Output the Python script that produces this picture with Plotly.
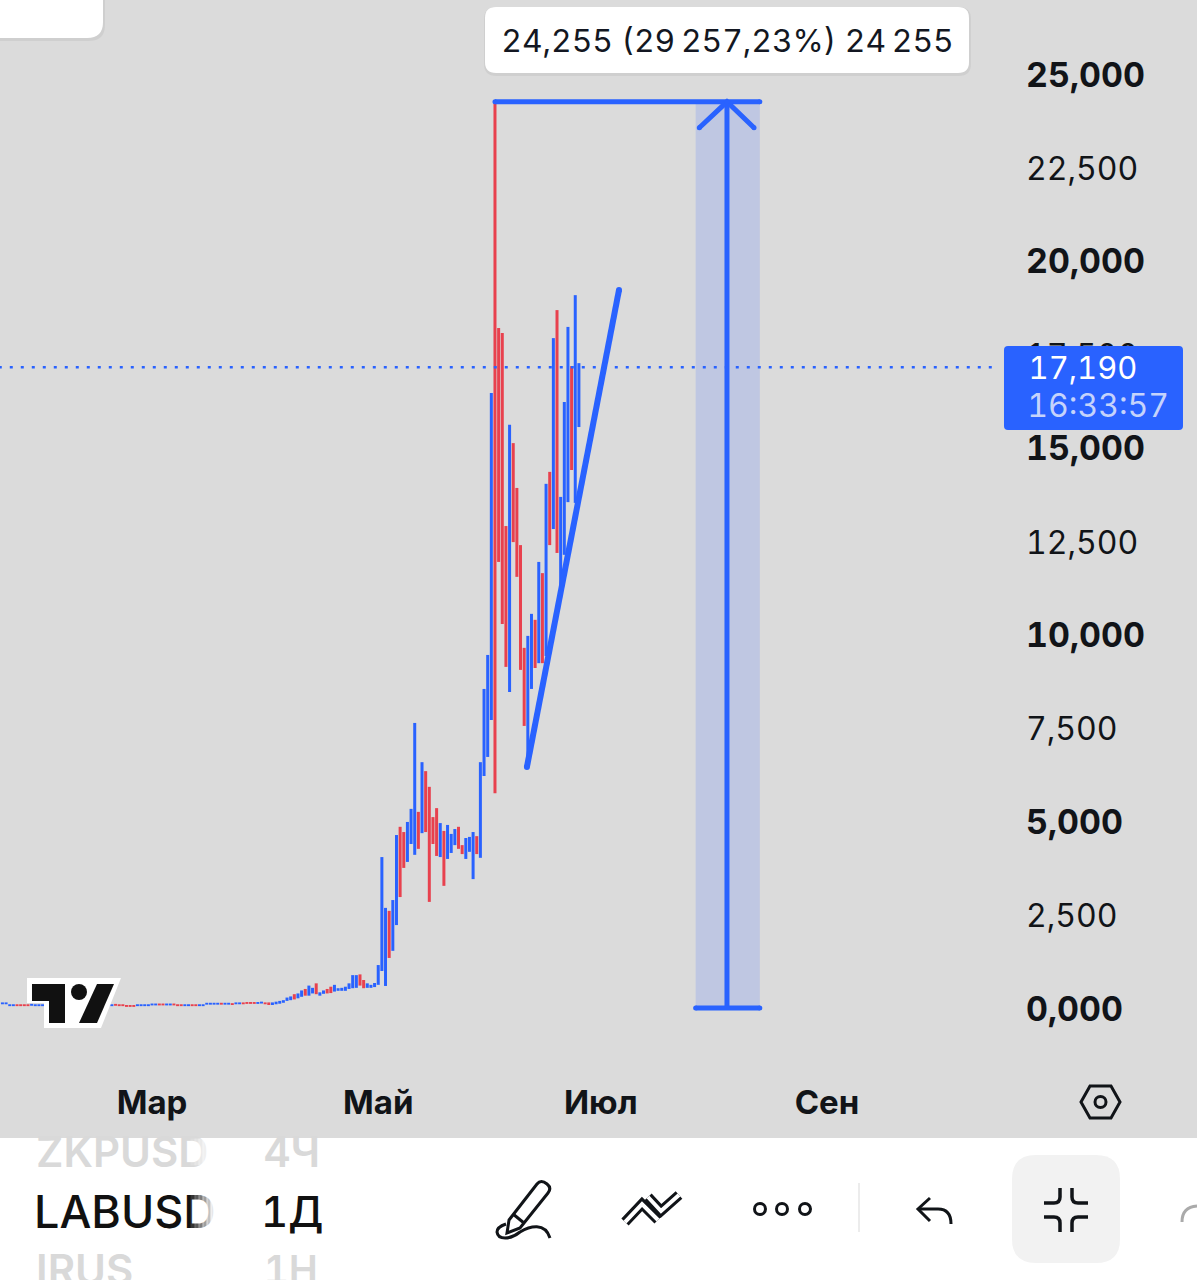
import pandas as pd
import plotly.graph_objects as go

W = 1197
H = 1280

# daily bars, 18 Jan - 25 Jun
start_day = "2025-01-18"
highs = [0.19, 0.19, 0.14, 0.14, 0.14, 0.14, 0.14, 0.14, 0.15, 0.14, 0.14, 0.14,
         0.15, 0.15, 0.15, 0.15, 0.15, 0.15, 0.15, 0.15, 0.15, 0.15, 0.15, 0.15, 0.15,
         0.15, 0.15, 0.15, 0.15, 0.14,
         0.14, 0.15, 0.14, 0.14, 0.12, 0.12, 0.12, 0.14, 0.14, 0.14, 0.14,
         0.16, 0.16, 0.16, 0.16, 0.16, 0.16, 0.16, 0.14, 0.14, 0.14, 0.14, 0.14, 0.14, 0.14, 0.14,
         0.18, 0.18, 0.18, 0.18, 0.18, 0.18, 0.18, 0.17, 0.19, 0.19, 0.19,
         0.20, 0.20, 0.20, 0.20, 0.21, 0.19,
         0.19, 0.19, 0.21, 0.23, 0.25, 0.32, 0.35, 0.41, 0.43, 0.51, 0.55, 0.64, 0.58, 0.70,
         0.46, 0.51, 0.55, 0.61, 0.66, 0.57, 0.58, 0.61, 0.70, 0.92, 0.92, 0.94, 0.79, 0.70,
         0.66, 0.71, 1.19, 4.08, 2.72, 2.64, 2.93, 4.67, 4.89, 4.75, 5.02, 5.37, 7.67, 5.29,
         6.62, 6.38, 5.96, 5.15, 5.39, 4.99, 4.78, 4.94, 4.70, 4.83, 4.89, 4.40, 4.59, 4.62,
         4.75, 4.64, 6.62, 8.58, 9.49, 16.50, 24.295, 18.24, 18.11, 12.94, 15.65, 15.16,
         13.96, 12.43, 9.68, 10.00, 10.59, 10.43, 11.98, 11.68, 14.07, 14.39, 17.97, 18.72,
         13.72, 16.26, 18.27, 17.22, 19.12, 17.30]
lows = [0.14, 0.14, 0.09, 0.09, 0.09, 0.09, 0.09, 0.09, 0.10, 0.09, 0.09, 0.09,
        0.10, 0.10, 0.10, 0.10, 0.10, 0.10, 0.10, 0.10, 0.10, 0.10, 0.10, 0.10, 0.10,
        0.10, 0.10, 0.10, 0.10, 0.09,
        0.09, 0.10, 0.09, 0.09, 0.07, 0.07, 0.07, 0.09, 0.09, 0.09, 0.09,
        0.11, 0.11, 0.11, 0.11, 0.11, 0.11, 0.11, 0.09, 0.09, 0.09, 0.09, 0.09, 0.09, 0.09, 0.09,
        0.13, 0.13, 0.13, 0.13, 0.13, 0.13, 0.13, 0.12, 0.14, 0.14, 0.14,
        0.15, 0.15, 0.15, 0.15, 0.16, 0.14,
        0.12, 0.12, 0.14, 0.155, 0.18, 0.23, 0.25, 0.27, 0.30, 0.34, 0.37, 0.37, 0.43, 0.41,
        0.37, 0.42, 0.43, 0.44, 0.48, 0.50, 0.50, 0.50, 0.55, 0.57, 0.58, 0.64, 0.57, 0.58,
        0.58, 0.60, 0.66, 1.03, 0.63, 1.38, 1.57, 2.26, 3.01, 3.79, 3.95, 4.43, 4.14, 4.30,
        4.72, 4.75, 2.88, 4.43, 4.11, 4.08, 3.31, 4.03, 4.19, 4.40, 4.30, 4.16, 4.03, 4.22,
        3.49, 4.16, 4.06, 6.25, 6.76, 7.75, 5.79, 11.98, 10.32, 9.17, 8.50, 12.51,
        11.58, 9.09, 7.59, 6.49, 8.58, 9.14, 9.27, 9.27, 9.46, 12.43, 12.86, 12.22,
        11.23, 12.17, 13.58, 14.44, 13.56, 15.59]
# 1 = blue bar, 0 = red bar
blue = [1, 1, 1, 1, 0, 0, 0, 0, 1, 1, 1, 1,
        0, 0, 1, 1, 0, 0, 1, 1, 1, 0, 0, 1, 1,
        1, 0, 1, 0, 1,
        1, 0, 0, 0, 0, 0, 0, 1, 1, 1, 1,
        1, 1, 0, 0, 1, 1, 0, 0, 0, 1, 1, 0, 0, 1, 1,
        1, 1, 1, 1, 0, 1, 1, 0, 1, 1, 0,
        0, 0, 0, 1, 1, 0,
        0, 1, 1, 1, 1, 1, 1, 0, 1, 1, 0, 1, 1, 0,
        1, 1, 0, 0, 1, 1, 1, 1, 1, 1, 1, 0, 0, 1,
        1, 1, 1, 1, 1, 0, 1, 1, 0, 0, 1, 1, 1, 0,
        1, 0, 0, 0, 0, 1, 0, 1, 1, 1, 0, 0, 1, 1,
        1, 0, 1, 1, 1, 1, 0, 0, 0, 0, 1, 0,
        0, 0, 0, 1, 1, 0, 1, 0, 1, 0, 1, 0,
        1, 1, 1, 0, 1, 1]

last_price = 17.19
price_ticks = [0, 2.5, 5, 7.5, 10, 12.5, 15, 17.5, 20, 22.5, 25]
price_labels = ["0,000", "2,500", "5,000", "7,500", "10,000", "12,500",
                "15,000", "17,500", "20,000", "22,500", "25,000"]
price_bold = [1, 0, 1, 0, 1, 0, 1, 0, 1, 0, 1]
month_ticks = ["2025-02-28", "2025-05-01", "2025-07-01", "2025-09-01"]
month_labels = ["<b>Мар</b>", "<b>Май</b>", "<b>Июл</b>", "<b>Сен</b>"]

trend_x = ["2025-06-10 18:00", "2025-07-06 00:00"]
trend_y = [6.49, 19.26]
measure_left = "2025-07-27"
measure_right = "2025-08-13 14:00"
measure_mid = "2025-08-04 14:00"
measure_low = 0.04
measure_high = 24.295
top_line_x = ["2025-06-02 00:00", measure_right]
head_x = ["2025-07-28", measure_mid, "2025-08-12"]
head_y = [23.6, measure_high, 23.6]
dot_x = ["2025-01-17", "2025-10-17"]

BG = "#dbdbdb"
BLUE = "#2962ff"
RED = "#e8414e"
INK = "#111418"
FONT = "Inter"

PLOT_RIGHT = 1000
PLOT_BOTTOM = 1075

dates = pd.date_range(start_day, periods=len(highs), freq="D")
opens = [l if b else h for h, l, b in zip(highs, lows, blue)]
closes = [h if b else l for h, l, b in zip(highs, lows, blue)]
price_text = [f'<span style="font-size:34px"><b>{t}</b></span>' if b else t
              for t, b in zip(price_labels, price_bold)]


def path(*cmds):
    # pixel coordinates of the page -> paper coordinates
    out = []
    for c in cmds:
        nums = c[1:]
        pts = []
        for i in range(0, len(nums), 2):
            pts.append(f"{nums[i] / W:.5f} {1 - nums[i + 1] / H:.5f}")
        out.append(c[0] + " ".join(pts))
    return " ".join(out)


def round_rect(x0, y0, x1, y1, r):
    return path(("M", x0 + r, y0), ("L", x1 - r, y0), ("Q", x1, y0, x1, y0 + r),
                ("L", x1, y1 - r), ("Q", x1, y1, x1 - r, y1), ("L", x0 + r, y1),
                ("Q", x0, y1, x0, y1 - r), ("L", x0, y0 + r), ("Q", x0, y0, x0 + r, y0), ("Z",))


def filled(p, color):
    return dict(type="path", xref="paper", yref="paper", path=p, fillcolor=color,
                line=dict(width=0), layer="above")


def stroke(p, color=INK, width=3):
    return dict(type="path", xref="paper", yref="paper", path=p,
                line=dict(color=color, width=width), layer="above")


def circle(cx, cy, r, color=INK, width=3):
    return dict(type="circle", xref="paper", yref="paper", x0=(cx - r) / W, x1=(cx + r) / W,
                y0=1 - (cy + r) / H, y1=1 - (cy - r) / H,
                line=dict(color=color, width=width), layer="above")


def label(x, y, text, size, color=INK, anchor="left", weight=400):
    return dict(xref="paper", yref="paper", x=x / W, y=1 - y / H, text=text, showarrow=False,
                xanchor=anchor, yanchor="middle",
                font=dict(family=FONT, size=size, color=color, weight=weight))


def fade(x, y, w, h, alpha):
    return dict(xref="paper", yref="paper", x=x / W, y=1 - y / H, text="&nbsp;", showarrow=False,
                xanchor="left", yanchor="middle", width=w, height=h, borderpad=0,
                bgcolor=f"rgba(255,255,255,{alpha})", font=dict(size=8))


fig = go.Figure()

fig.add_trace(go.Ohlc(x=dates, open=opens, high=highs, low=lows, close=closes, tickwidth=0,
                      increasing=dict(line=dict(color=BLUE, width=3)),
                      decreasing=dict(line=dict(color=RED, width=3)),
                      showlegend=False, hoverinfo="skip"))

# last price line
fig.add_trace(go.Scatter(x=dot_x, y=[last_price, last_price], mode="lines", showlegend=False,
                         line=dict(color=BLUE, width=2.5, dash="3px,8px"), hoverinfo="skip"))

# trend line
fig.add_trace(go.Scatter(x=trend_x, y=trend_y, mode="lines+markers", showlegend=False,
                         line=dict(color=BLUE, width=6), marker=dict(color=BLUE, size=6),
                         hoverinfo="skip"))

# measure tool
fig.add_trace(go.Scatter(x=top_line_x, y=[measure_high, measure_high], mode="lines+markers",
                         line=dict(color=BLUE, width=5), marker=dict(color=BLUE, size=5),
                         showlegend=False, hoverinfo="skip"))
fig.add_trace(go.Scatter(x=[measure_left, measure_right], y=[measure_low, measure_low],
                         mode="lines+markers", line=dict(color=BLUE, width=5),
                         marker=dict(color=BLUE, size=5), showlegend=False, hoverinfo="skip"))
fig.add_trace(go.Scatter(x=[measure_mid, measure_mid], y=[measure_low, measure_high], mode="lines",
                         line=dict(color=BLUE, width=5), showlegend=False, hoverinfo="skip"))
fig.add_trace(go.Scatter(x=head_x, y=head_y, mode="lines+markers", line=dict(color=BLUE, width=5),
                         marker=dict(color=BLUE, size=5), showlegend=False, hoverinfo="skip"))

shapes = [
    dict(type="rect", xref="x", yref="y", x0=measure_left, x1=measure_right, y0=measure_low,
         y1=measure_high, fillcolor="#bfc7e2", line=dict(width=0), layer="below"),
    # tv logo
    filled(path(("M", 27, 978), ("L", 121, 978), ("L", 101, 1028), ("L", 44, 1028), ("L", 44, 1003),
                ("L", 27, 1003), ("Z",)), "#ffffff"),
    filled(path(("M", 32, 984), ("L", 65, 984), ("L", 65, 1023), ("L", 49, 1023), ("L", 49, 1001),
                ("L", 32, 1001), ("Z",)), "#111111"),
    filled(path(("M", 97, 984), ("L", 114, 984), ("L", 97, 1023), ("L", 79, 1023), ("Z",)), "#111111"),
    dict(type="circle", xref="paper", yref="paper", x0=71 / W, x1=87 / W, y0=1 - 1000 / H, y1=1 - 984 / H,
         fillcolor="#111111", line=dict(width=0), layer="above"),
    # top left card, tooltip
    filled(round_rect(-20, -20, 105, 41, 16), "rgba(0,0,0,0.05)"),
    filled(round_rect(-20, -20, 103, 38, 16), "#ffffff"),
    filled(round_rect(484, 7, 971, 76, 12), "rgba(0,0,0,0.05)"),
    filled(round_rect(485, 7, 969, 73, 11), "#ffffff"),
    # price box
    filled(round_rect(1004, 346, 1183, 430, 4), BLUE),
    # bottom bar
    filled(path(("M", 0, 1138), ("L", W, 1138), ("L", W, H), ("L", 0, H), ("Z",)), "#ffffff"),
    filled(round_rect(1012, 1155, 1120, 1263, 24), "#f2f2f2"),
    # settings icon
    stroke(path(("M", 1081, 1102), ("L", 1090, 1086), ("L", 1111, 1086), ("L", 1120, 1102),
                ("L", 1111, 1118), ("L", 1090, 1118), ("Z",))),
    circle(1100.5, 1102, 5.5),
    # pen icon
    stroke(path(("M", 509, 1220), ("L", 537, 1184), ("Q", 541, 1179, 547, 1184), ("Q", 552, 1188, 548, 1193),
                ("L", 520, 1228), ("L", 507, 1233), ("Z",))),
    stroke(path(("M", 513, 1214), ("L", 524, 1223))),
    stroke(path(("M", 550, 1238), ("C", 545, 1222, 530, 1226, 520, 1232), ("C", 510, 1240, 498, 1240, 497, 1232),
                ("Q", 497, 1227, 506, 1224))),
    # lines icon, outline made from a dark and a white stroke
    stroke(path(("M", 625, 1222), ("L", 642, 1204), ("L", 658, 1220)), width=10),
    stroke(path(("M", 648, 1197), ("L", 661, 1211), ("L", 679, 1195)), width=10),
    stroke(path(("M", 625, 1222), ("L", 642, 1204), ("L", 658, 1220)), color="#ffffff", width=4),
    stroke(path(("M", 648, 1197), ("L", 661, 1211), ("L", 679, 1195)), color="#ffffff", width=4),
    # dots
    circle(760, 1209, 5.5), circle(782, 1209, 5.5), circle(805, 1209, 5.5),
    stroke(path(("M", 859, 1183), ("L", 859, 1232)), color="#e6e6e6", width=1.5),
    # undo
    stroke(path(("M", 930, 1198), ("L", 918, 1209), ("L", 930, 1221))),
    stroke(path(("M", 918, 1209), ("L", 938, 1209), ("Q", 951, 1209, 951, 1224))),
    # collapse
    stroke(path(("M", 1060, 1188), ("L", 1060, 1197), ("Q", 1060, 1203, 1054, 1203), ("L", 1044, 1203)), width=3.5),
    stroke(path(("M", 1072, 1188), ("L", 1072, 1197), ("Q", 1072, 1203, 1078, 1203), ("L", 1088, 1203)), width=3.5),
    stroke(path(("M", 1044, 1217), ("L", 1054, 1217), ("Q", 1060, 1217, 1060, 1223), ("L", 1060, 1232)), width=3.5),
    stroke(path(("M", 1088, 1217), ("L", 1078, 1217), ("Q", 1072, 1217, 1072, 1223), ("L", 1072, 1232)), width=3.5),
    stroke(path(("M", 1182, 1222), ("Q", 1182, 1207, 1197, 1206)), color="#aaaaaa", width=3),
]

# x positions of the left anchored texts allow for the tabular figures set below
annotations = [
    label(512, 41, "24,255 (29\u2009257,23%) 24\u2009255", 31.8, "#131722"),
    label(1039, 367, "17,190", 31, "#ffffff"),
    label(1032, 405, "16:33:57", 32, "#c5d3fb"),
    label(34, 1151, "ZKPUSD", 42, "#d9d9d9", weight=600),
    label(261, 1151, "4Ч", 42, "#d9d9d9", weight=600),
    label(32, 1211, "LABUSD", 45, "#111111", weight=500),
    label(264, 1211, "1Д", 42, "#111111", weight=500),
    label(34, 1269, "IRUS", 42, "#d9d9d9", weight=600),
    label(266, 1269, "1Н", 39, "#d9d9d9", weight=600),
]
# right end of the symbol names fades out
for i, a in enumerate([0.15, 0.3, 0.45, 0.6, 0.75, 0.9]):
    annotations.append(fade(190 + i * 4, 1211, 4, 50, a))
    annotations.append(fade(190 + i * 4, 1152, 4, 26, a))
annotations.append(fade(214, 1211, 10, 50, 1))
annotations.append(fade(214, 1152, 10, 26, 1))

fig.update_layout(
    width=W, height=H, autosize=False,
    margin=dict(l=0, r=0, t=0, b=0),
    paper_bgcolor=BG, plot_bgcolor=BG,
    showlegend=False,
    shapes=shapes,
    annotations=annotations,
    font=dict(family=FONT, color=INK),
    xaxis=dict(domain=[0, PLOT_RIGHT / W], type="date", range=["2025-01-17 08:00", "2025-10-18 10:00"],
               rangeslider=dict(visible=False), showgrid=False, zeroline=False, showline=False,
               tickmode="array", tickvals=month_ticks, ticktext=month_labels, ticks="",
               tickfont=dict(family=FONT, size=33, color=INK), ticklabelstandoff=5),
    yaxis=dict(domain=[1 - PLOT_BOTTOM / H, 1], range=[-1.753, 27.02], side="right", showgrid=False,
               zeroline=False, showline=False, tickmode="array", tickvals=price_ticks,
               ticktext=price_text, ticks="", tickfont=dict(family=FONT, size=32, color=INK),
               ticklabelstandoff=25),
)

# tabular figures, as in the screenshot
css = "var s=document.createElement('style');s.textContent='svg text{font-feature-settings:\"tnum\" 1}';" \
      "document.head.appendChild(s);document.body.style.margin='0';"
fig.write_html("out.html", post_script=css, config={"displayModeBar": False})
